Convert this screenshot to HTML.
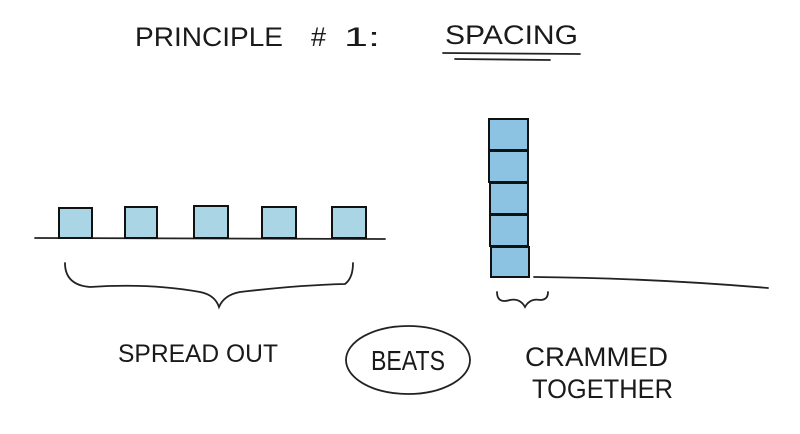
<!DOCTYPE html>
<html><head><meta charset="utf-8"><style>
html,body{margin:0;padding:0;background:#fff;}
svg{display:block}
text{font-family:"Liberation Sans",sans-serif;fill:#1a1a1a;}
</style></head><body>
<svg width="800" height="434" viewBox="0 0 800 434" xmlns="http://www.w3.org/2000/svg">
<g stroke="none">
<text x="135" y="46" font-size="27" textLength="148" lengthAdjust="spacingAndGlyphs">PRINCIPLE</text>
<text x="311" y="46" font-size="27">#</text>
<text x="344" y="46" font-size="27" textLength="36" lengthAdjust="spacingAndGlyphs">1:</text>
<text x="445" y="44" font-size="27" textLength="133" lengthAdjust="spacingAndGlyphs">SPACING</text>
<text x="118" y="362" font-size="25" textLength="160" lengthAdjust="spacingAndGlyphs">SPREAD OUT</text>
<text x="371" y="370" font-size="28" textLength="74" lengthAdjust="spacingAndGlyphs">BEATS</text>
<text x="525" y="366" font-size="27" textLength="143" lengthAdjust="spacingAndGlyphs">CRAMMED</text>
<text x="532" y="398" font-size="27" textLength="141" lengthAdjust="spacingAndGlyphs">TOGETHER</text>
</g>
<g stroke="#222" stroke-width="1.8" fill="none" stroke-linecap="round">
<path d="M443 53 L580 54"/>
<path d="M455 59 L550 60"/>
<path d="M35 238 L385 239"/>
<path d="M534 277 Q650 278 768 288"/>
<path d="M65 263 Q65 285 90 287 Q150 283 200 292 Q215 295 219 307 Q224 295 240 292 Q300 285 345 284 Q353 278 353 263"/>
<path d="M497 292 Q497 304 510 300 Q520 298 525 307 Q530 298 540 300 Q548 300 548 292"/>
<ellipse cx="408" cy="360" rx="62" ry="34"/>
</g>
<g stroke="#111" stroke-width="2" fill="#a9d5e4">
<rect x="59" y="208" width="33" height="30"/>
<rect x="125" y="207" width="32" height="31"/>
<rect x="194" y="206" width="34" height="32"/>
<rect x="262" y="207" width="34" height="31"/>
<rect x="332" y="207" width="34" height="31"/>
</g>
<g stroke="#111" stroke-width="2" fill="#8cc2e2">
<rect x="489" y="119" width="39" height="31"/>
<rect x="489" y="151" width="39" height="31"/>
<rect x="490" y="183" width="38" height="31"/>
<rect x="490" y="215" width="38" height="31"/>
<rect x="491" y="247" width="38" height="30"/>
</g>
</svg>
</body></html>
